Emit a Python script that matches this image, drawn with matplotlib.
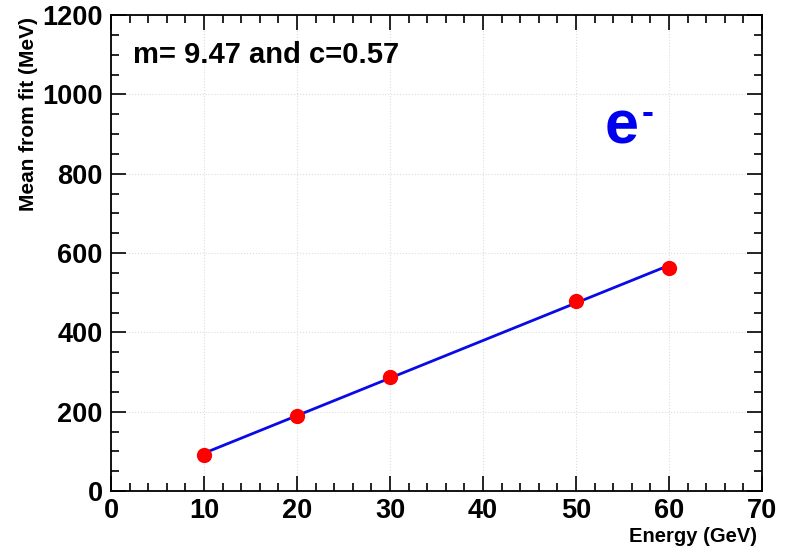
import matplotlib.pyplot as plt
from matplotlib.ticker import MultipleLocator
import numpy as np

# data
energy = [10, 20, 30, 50, 60]
mean_fit = [91, 190, 287, 479, 563]
slope = 9.47
intercept = 0.57

plt.rcParams['font.family'] = ['Liberation Sans', 'DejaVu Sans']
plt.rcParams['font.weight'] = 'bold'

W, H = 786, 550
fig = plt.figure(figsize=(W / 100, H / 100), dpi=100)
ax = fig.add_axes([111 / W, 1 - 491 / H, (762 - 111) / W, (491 - 15) / H])

# fit line
xf = np.array([min(energy), max(energy)])
ax.plot(xf, slope * xf + intercept, color='#0a0ae6', linewidth=2, zorder=2)
ax.plot(energy, mean_fit, 'o', color='#ff0000', markersize=11,
        markeredgewidth=0, zorder=3)

ax.set_xlim(0, 70)
ax.set_ylim(0, 1200)
ax.xaxis.set_major_locator(MultipleLocator(10))
ax.xaxis.set_minor_locator(MultipleLocator(2))
ax.yaxis.set_major_locator(MultipleLocator(200))
ax.yaxis.set_minor_locator(MultipleLocator(50))

ax.grid(True, which='major', color='#dddddd', linestyle=':', linewidth=0.8)
ax.tick_params(which='both', direction='in', top=True, right=True,
               width=1.2, labelsize=19.5, colors='black')
ax.tick_params(which='major', length=10.5)
ax.tick_params(which='minor', length=6)
ax.tick_params(axis='x', pad=5)
ax.tick_params(axis='y', pad=6)
for s in ax.spines.values():
    s.set_linewidth(1.3)
for lab in ax.get_xticklabels() + ax.get_yticklabels():
    lab.set_fontweight('bold')

ax.set_xlabel('Energy (GeV)', fontsize=14.5, fontweight='bold', loc='right')
ax.xaxis.label.set_va('center')
ax.xaxis.set_label_coords((757 - 111) / 651, (491 - 537) / 476)
ax.set_ylabel('Mean from fit (MeV)', fontsize=15, fontweight='bold', loc='top')
ax.yaxis.label.set_va('center')
ax.yaxis.set_label_coords((28 - 111) / 651, (491 - 17) / 476)

fig.text(133 / W, 1 - 55 / H, f'm= {slope:.2f} and c={intercept:.2f}',
         fontsize=21, fontweight='bold', va='center', ha='left')
# e^- label
fig.text(605 / W, 1 - 144 / H, 'e', fontsize=44, fontweight='bold',
         color='#0000ee', va='baseline', ha='left')
fig.text(648 / W, 1 - 114 / H, '-', fontsize=26, fontweight='bold',
         color='#0000ee', va='center', ha='center')

fig.savefig('out.png', dpi=100)
